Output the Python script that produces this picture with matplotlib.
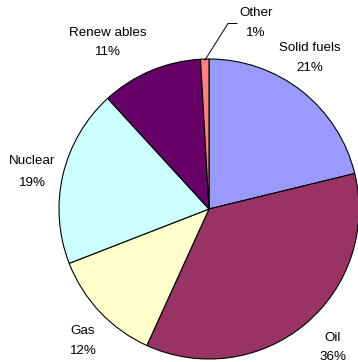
import matplotlib
matplotlib.use("Agg")
import matplotlib.pyplot as plt

categories = ["Solid fuels", "Oil", "Gas", "Nuclear", "Renewables", "Other"]
display_names = ["Solid fuels", "Oil", "Gas", "Nuclear", "Renew ables", "Other"]
values = [21.2, 35.6, 12.3, 19.1, 10.9, 0.9]
colors = ["#9999FF", "#993366", "#FFFFCC", "#CCFFFF", "#660066", "#FF8080"]

W, H = 358, 362
fig = plt.figure(figsize=(W / 100, H / 100), dpi=100)
ax = fig.add_axes([0, 0, 1, 1])

cx, cy, r = 209, H - 209, 150
ax.pie(values, colors=colors, startangle=90, counterclock=False,
       center=(cx, cy), radius=r, frame=True,
       wedgeprops=dict(edgecolor="black", linewidth=0.8))
ax.set_xlim(0, W)
ax.set_ylim(0, H)
ax.set_aspect("equal")
ax.axis("off")

# label positions in pixel coords (x, y from top)
label_pos = [(310, 48, 68), (333, 338, 357), (83, 331, 351),
             (32, 161, 183), (108, 33, 52), (256, 13, 33)]
font = dict(family=["Liberation Sans", "DejaVu Sans"], fontsize=9.6, color="#000000")
for name, v, (x, y1, y2) in zip(display_names, values, label_pos):
    ax.text(x, H - y1, name, ha="center", va="center", **font)
    ax.text(x, H - y2, f"{round(v)}%", ha="center", va="center", **font)

# leader line for "Other"
ax.plot([205, 228, 237], [H - 60, H - 23.5, H - 23.5], color="black", linewidth=0.7)

fig.savefig("out.png", dpi=100)
